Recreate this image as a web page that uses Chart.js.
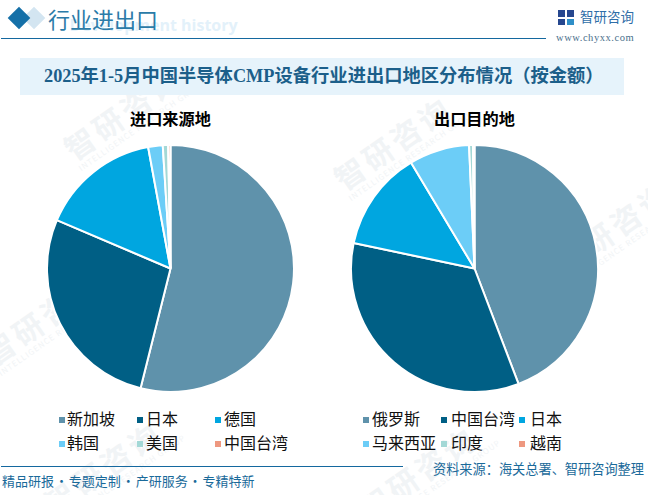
<!DOCTYPE html>
<html>
<head>
<meta charset="utf-8">
<script src="https://cdn.jsdelivr.net/npm/chart.js@4"></script>
<style>
    html, body { margin: 0; padding: 0; background: #fff; }
    body { width: 648px; height: 495px; position: relative; overflow: hidden; font-family: "Noto Sans CJK SC", sans-serif; }
    .abs { position: absolute; white-space: nowrap; line-height: 1; }
    .mark { position: absolute; white-space: nowrap; color: #f1f4f6; font-size: 30px; font-weight: 700; letter-spacing: 4px; transform: rotate(-35deg); transform-origin: left center; line-height: 1; }
    .mark small { display: block; font-size: 8px; font-weight: 400; letter-spacing: 1px; margin-top: 3px; }
    .chip { position: absolute; width: 6px; height: 6px; }
    canvas { display: block; }
    .pie { position: absolute; width: 249px; height: 249px; top: 144px; }
</style>
</head>
<body>
<div id="marks"></div>

<div class="abs" style="left:26px;top:9.5px;width:16px;height:16px;background:#d3e5f1;transform:rotate(45deg)"></div>
<div class="abs" style="left:11px;top:9.5px;width:16px;height:16px;background:#1570a8;transform:rotate(45deg)"></div>
<div class="abs" style="left:69.5px;top:14px;font:700 16px 'Open Sans',sans-serif;color:#e3f1fa">Development history</div>
<div class="abs" style="left:48px;top:7px;font-size:22px;color:#2b7ba8">行业进出口</div>
<div class="abs" style="left:1px;top:38px;width:545px;height:1px;background:#14689f"></div>

<div class="abs" style="left:558px;top:10px;width:7px;height:7px;background:#26478f"></div>
<div class="abs" style="left:567px;top:10px;width:7px;height:7px;background:#26478f"></div>
<div class="abs" style="left:558px;top:19px;width:7px;height:6px;background:#26478f"></div>
<div class="abs" style="left:567px;top:19px;width:7px;height:6px;background:#2f8fc8"></div>
<div class="abs" style="left:580px;top:10px;font-size:13.5px;color:#2f6ea8">智研咨询</div>
<div class="abs" style="left:556px;top:32px;font:10.5px 'Liberation Serif',serif;color:#4a6f8c;letter-spacing:.55px">www.chyxx.com</div>

<div class="abs" style="left:20px;top:58px;width:604px;height:37px;background:#e6f3fb"></div>
<div class="abs" style="left:44px;top:67px;font-family:'Liberation Serif','Noto Sans CJK SC',serif;font-size:18.3px;font-weight:700;color:#1c5f8a">2025年1-5月中国半导体CMP设备行业进出口地区分布情况（按金额）</div>

<div class="abs" style="left:130px;top:110px;font-size:16.2px;font-weight:700;color:#000">进口来源地</div>
<div class="abs" style="left:434px;top:110px;font-size:16.2px;font-weight:700;color:#000">出口目的地</div>

<div class="pie" style="left:45.5px"><canvas id="importChart"></canvas></div>
<div class="pie" style="left:349.5px"><canvas id="exportChart"></canvas></div>

<div id="legends"></div>

<div class="abs" style="left:1px;top:466px;width:402px;height:1px;background:#14689f"></div>
<div class="abs" style="left:2px;top:474px;font-size:13px;word-spacing:-2px;color:#1a6a9a">精品研报 · 专题定制 · 产研服务 · 专精特新</div>
<div class="abs" style="left:433px;top:462px;font-size:13.2px;color:#1a6a9a">资料来源：海关总署、智研咨询整理</div>

<script>
    const importLabels = ['新加坡', '日本', '德国', '韩国', '美国', '中国台湾'];
    const importValues = [53.9, 27.5, 15.7, 1.9, 0.7, 0.3];
    const exportLabels = ['俄罗斯', '中国台湾', '日本', '马来西亚', '印度', '越南'];
    const exportValues = [44.2, 34.1, 13.1, 7.9, 0.5, 0.2];
    const sliceColors = ['#5f92ab', '#005f85', '#00a6e0', '#6ccdf7', '#a3d8d6', '#ee9880'];

    // Faint company watermark behind everything
    const markSpots = [[70, 135], [340, 165], [50, 490], [365, 495], [560, 250], [-10, 340]];
    document.getElementById('marks').innerHTML = markSpots.map(function (p) {
        return '<div class="mark" style="left:' + p[0] + 'px;top:' + p[1] + 'px">智研咨询<small>INTELLIGENCE RESEARCH GROUP</small></div>';
    }).join('');

    function drawPie(id, labels, values) {
        const ctx = document.getElementById(id).getContext('2d');
        new Chart(ctx, {
            type: 'pie',
            data: {
                labels: labels,
                datasets: [{
                    data: values,
                    backgroundColor: sliceColors,
                    borderColor: '#ffffff',
                    borderWidth: 2
                }]
            },
            options: {
                responsive: true,
                maintainAspectRatio: false,
                animation: false,
                layout: { padding: 0 },
                plugins: {
                    legend: { display: false },
                    tooltip: { enabled: false }
                }
            }
        });
    }

    function drawLegend(labels, chipX, textX) {
        let html = '';
        labels.forEach(function (label, i) {
            const col = i % 3;
            const row = Math.floor(i / 3);
            const y = 417 + row * 24;
            html += '<div class="chip" style="left:' + chipX[col] + 'px;top:' + y + 'px;background:' + sliceColors[i] + '"></div>';
            html += '<div class="abs" style="left:' + textX[col] + 'px;top:' + (y - 7) + 'px;font-size:16px;color:#111">' + label + '</div>';
        });
        document.getElementById('legends').innerHTML += html;
    }

    drawPie('importChart', importLabels, importValues);
    drawPie('exportChart', exportLabels, exportValues);
    drawLegend(importLabels, [59, 137, 215], [67, 146, 224]);
    drawLegend(exportLabels, [363, 441, 519], [372, 451, 530]);
</script>
</body>
</html>
